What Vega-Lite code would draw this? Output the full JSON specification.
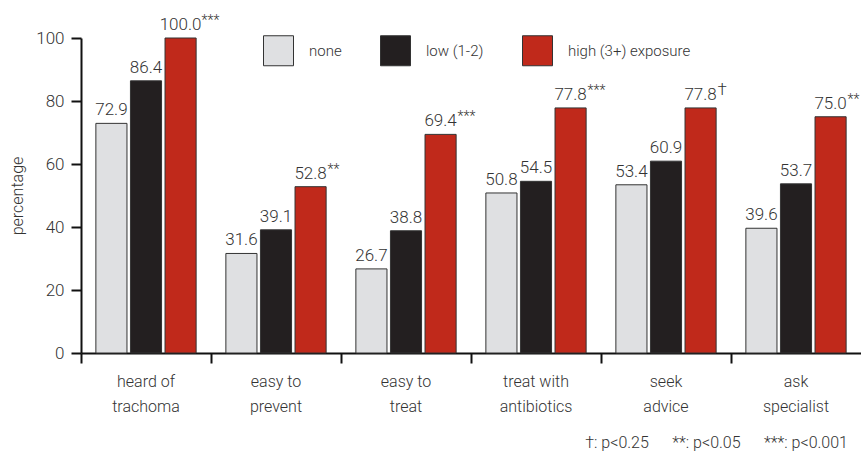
{
  "$schema": "https://vega.github.io/schema/vega-lite/v6.json",
  "autosize": {"type": "none"},
  "width": 780,
  "height": 315,
  "padding": {"left": 81, "top": 38, "right": 0, "bottom": 104},
  "config": {
    "view": {"stroke": null},
    "font": "Roboto",
    "text": {"font": "Roboto"}
  },
  "title": {
    "text": "†: p<0.25\u00a0\u00a0\u00a0\u00a0\u00a0\u00a0**: p<0.05\u00a0\u00a0\u00a0\u00a0\u00a0\u00a0***: p<0.001",
    "orient": "bottom",
    "anchor": "end",
    "font": "Roboto",
    "fontSize": 16,
    "fontWeight": 300,
    "color": "#333",
    "offset": 21,
    "dx": -13
  },
  "data": {
    "values": [
      {"group": "heard of|trachoma", "exposure": "none", "value": 72.9, "label": "72.9", "sig": ""},
      {"group": "heard of|trachoma", "exposure": "low (1-2)", "value": 86.4, "label": "86.4", "sig": ""},
      {"group": "heard of|trachoma", "exposure": "high (3+) exposure", "value": 100.0, "label": "100.0", "sig": "***"},
      {"group": "easy to|prevent", "exposure": "none", "value": 31.6, "label": "31.6", "sig": ""},
      {"group": "easy to|prevent", "exposure": "low (1-2)", "value": 39.1, "label": "39.1", "sig": ""},
      {"group": "easy to|prevent", "exposure": "high (3+) exposure", "value": 52.8, "label": "52.8", "sig": "**"},
      {"group": "easy to|treat", "exposure": "none", "value": 26.7, "label": "26.7", "sig": ""},
      {"group": "easy to|treat", "exposure": "low (1-2)", "value": 38.8, "label": "38.8", "sig": ""},
      {"group": "easy to|treat", "exposure": "high (3+) exposure", "value": 69.4, "label": "69.4", "sig": "***"},
      {"group": "treat with|antibiotics", "exposure": "none", "value": 50.8, "label": "50.8", "sig": ""},
      {"group": "treat with|antibiotics", "exposure": "low (1-2)", "value": 54.5, "label": "54.5", "sig": ""},
      {"group": "treat with|antibiotics", "exposure": "high (3+) exposure", "value": 77.8, "label": "77.8", "sig": "***"},
      {"group": "seek|advice", "exposure": "none", "value": 53.4, "label": "53.4", "sig": ""},
      {"group": "seek|advice", "exposure": "low (1-2)", "value": 60.9, "label": "60.9", "sig": ""},
      {"group": "seek|advice", "exposure": "high (3+) exposure", "value": 77.8, "label": "77.8", "sig": "†"},
      {"group": "ask|specialist", "exposure": "none", "value": 39.6, "label": "39.6", "sig": ""},
      {"group": "ask|specialist", "exposure": "low (1-2)", "value": 53.7, "label": "53.7", "sig": ""},
      {"group": "ask|specialist", "exposure": "high (3+) exposure", "value": 75.0, "label": "75.0", "sig": "**"}
    ]
  },
  "encoding": {
    "x": {
      "field": "group", "type": "nominal", "sort": null,
      "scale": {"paddingInner": 0, "paddingOuter": 0},
      "axis": {
        "title": null,
        "labelAngle": 0,
        "bandPosition": 0,
        "labelExpr": "split(datum.label, '|')",
        "labelFont": "Roboto",
        "labelFontWeight": 300,
        "labelFontSize": 16,
        "labelColor": "#333",
        "labelPadding": 10,
        "labelLineHeight": 25,
        "tickSize": 10,
        "tickWidth": 2,
        "tickColor": "#111",
        "domainColor": "#111",
        "domainWidth": 2,
        "grid": false
      }
    },
    "xOffset": {
      "field": "exposure", "type": "nominal",
      "sort": ["none", "low (1-2)", "high (3+) exposure"],
      "scale": {"paddingInner": 0.1, "paddingOuter": 0.43}
    },
    "y": {
      "field": "value", "type": "quantitative",
      "scale": {"domain": [0, 100], "nice": false},
      "axis": {
        "title": "percentage",
        "titleFont": "Roboto",
        "titleFontSize": 16,
        "titleFontWeight": 300,
        "titleColor": "#333",
        "titlePadding": 10,
        "values": [0, 20, 40, 60, 80, 100],
        "labelFont": "Roboto",
        "labelFontWeight": 300,
        "labelFontSize": 17,
        "labelColor": "#333",
        "labelPadding": 7,
        "tickSize": 10,
        "tickWidth": 2,
        "tickColor": "#111",
        "domainColor": "#111",
        "domainWidth": 2,
        "grid": false
      }
    }
  },
  "layer": [
    {
      "mark": {"type": "bar", "stroke": "#333", "strokeWidth": 1},
      "encoding": {
        "color": {
          "field": "exposure", "type": "nominal",
          "sort": ["none", "low (1-2)", "high (3+) exposure"],
          "scale": {"domain": ["none", "low (1-2)", "high (3+) exposure"], "range": ["#dfe0e2", "#231f20", "#c0291b"]},
          "legend": {
            "title": null,
            "orient": "none",
            "legendX": 182,
            "legendY": -3,
            "direction": "horizontal",
            "symbolType": "square",
            "symbolSize": 900,
            "symbolStrokeColor": "#333",
            "symbolStrokeWidth": 1,
            "symbolOpacity": 1,
            "labelFont": "Roboto",
            "labelFontWeight": 300,
            "labelFontSize": 15,
            "labelColor": "#333",
            "labelOffset": 15,
            "columnPadding": 36,
            "padding": 0
          }
        }
      }
    },
    {
      "mark": {"type": "text", "baseline": "bottom", "dy": -4, "fontSize": 17, "fontWeight": 300, "color": "#333", "font": "Roboto"},
      "encoding": {"text": {"field": "label"}}
    },
    {
      "transform": [{"filter": "datum.sig != '' && datum.value >= 100"}],
      "mark": {"type": "text", "align": "left", "baseline": "bottom", "dx": 21, "dy": -10, "fontSize": 14, "fontWeight": 300, "color": "#333", "font": "Roboto"},
      "encoding": {"text": {"field": "sig"}}
    },
    {
      "transform": [{"filter": "datum.sig != '' && datum.value < 100 && datum.sig != '†'"}],
      "mark": {"type": "text", "align": "left", "baseline": "bottom", "dx": 17, "dy": -10, "fontSize": 14, "fontWeight": 300, "color": "#333", "font": "Roboto"},
      "encoding": {"text": {"field": "sig"}}
    },
    {
      "transform": [{"filter": "datum.sig == '†'"}],
      "mark": {"type": "text", "align": "left", "baseline": "bottom", "dx": 17, "dy": -9, "fontSize": 17, "fontWeight": 300, "color": "#333", "font": "Roboto"},
      "encoding": {"text": {"field": "sig"}}
    }
  ]
}
